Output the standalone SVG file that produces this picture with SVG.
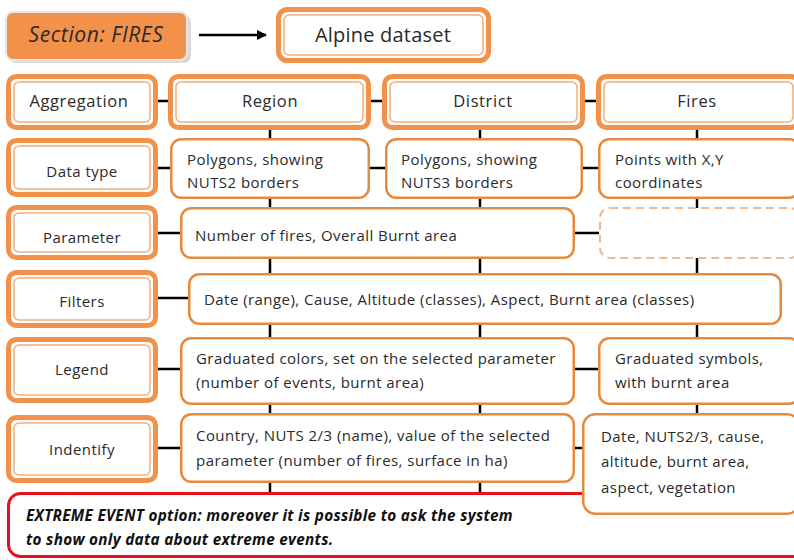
<svg xmlns="http://www.w3.org/2000/svg" width="794" height="560" viewBox="0 0 794 560">
<style>
text{font-family:"Open Sans","Liberation Sans",sans-serif;fill:#2a2a2a;font-size:15px;letter-spacing:0.45px}
.c{text-anchor:middle}
.lo{fill:#fff;stroke:#F1914A;stroke-width:5}
.li{fill:none;stroke:#F4AE7A;stroke-width:1.5}
.box{fill:#fff;stroke:#E58A3E;stroke-width:2.5}
.con{stroke:#000;stroke-width:2.5;fill:none}
.big{font-size:20px;letter-spacing:0.2px}
.lab{font-size:16.5px;letter-spacing:0.6px}
.red{font-weight:bold;font-style:italic;fill:#111;font-size:15.3px;letter-spacing:0.3px}
</style>
<defs>
<marker id="ah" viewBox="0 0 10 10" refX="9" refY="5" markerWidth="4" markerHeight="4" orient="auto" markerUnits="strokeWidth">
<path d="M0,0 L10,5 L0,10 z" fill="#000"/>
</marker>
</defs>
<rect width="794" height="560" fill="#fff"/>
<g id="connectors">
<line class="con" x1="199" y1="35" x2="266" y2="35" stroke-width="3" marker-end="url(#ah)"/>
<line class="con" x1="270" y1="130" x2="270" y2="492"/>
<line class="con" x1="480" y1="130" x2="480" y2="492"/>
<line class="con" x1="697" y1="130" x2="697" y2="413"/>
<line class="con" x1="158" y1="101" x2="168" y2="101"/>
<line class="con" x1="371" y1="101" x2="382" y2="101"/>
<line class="con" x1="585" y1="101" x2="596" y2="101"/>
<line class="con" x1="158" y1="168" x2="170" y2="168"/>
<line class="con" x1="370" y1="168" x2="385" y2="168"/>
<line class="con" x1="583" y1="168" x2="598" y2="168"/>
<line class="con" x1="158" y1="233" x2="180" y2="233"/>
<line class="con" x1="575" y1="233" x2="599" y2="233"/>
<line class="con" x1="158" y1="298" x2="188" y2="298"/>
<line class="con" x1="158" y1="369" x2="180" y2="369"/>
<line class="con" x1="575" y1="369" x2="598" y2="369"/>
<line class="con" x1="158" y1="448" x2="180" y2="448"/>
<line class="con" x1="575" y1="448" x2="582" y2="448"/>
</g>
<g id="section">
<rect x="9" y="15" width="182" height="48" rx="7" fill="#d9d9d9"/>
<rect x="6" y="12" width="181" height="48" rx="7" fill="#F3914A" stroke="#e6e6e6" stroke-width="2"/>
<text x="96" y="42" class="c big" font-style="italic" style="font-size:21px;letter-spacing:0.6px">Section: FIRES</text>
</g>
<g id="alpine">
<rect x="278.5" y="9.5" width="210" height="51" rx="9" class="lo"/>
<rect x="284" y="15" width="199" height="40" rx="5" class="li"/>
<text x="383" y="42" class="c big">Alpine dataset</text>
</g>
<g id="aggregation">
<rect x="8.5" y="76.5" width="147" height="51" rx="8" class="lo"/>
<rect x="14" y="82" width="136" height="40" rx="5" class="li"/>
<text x="79" y="107" class="c lab">Aggregation</text>
</g>
<g id="region">
<rect x="170.5" y="76.5" width="198" height="51" rx="8" class="lo"/>
<rect x="176" y="82" width="187" height="40" rx="5" class="li"/>
<text x="270" y="107" class="c lab">Region</text>
</g>
<g id="district">
<rect x="384.5" y="76.5" width="198" height="51" rx="8" class="lo"/>
<rect x="390" y="82" width="187" height="40" rx="5" class="li"/>
<text x="483" y="107" class="c lab">District</text>
</g>
<g id="fires">
<rect x="598.5" y="76.5" width="200" height="51" rx="8" class="lo"/>
<rect x="604" y="82" width="189" height="40" rx="5" class="li"/>
<text x="697" y="107" class="c lab">Fires</text>
</g>
<g id="datatype">
<rect x="8.5" y="140.5" width="147" height="54" rx="8" class="lo"/>
<rect x="14" y="146" width="136" height="43" rx="5" class="li"/>
<text x="82" y="177" class="c">Data type</text>
</g>
<g id="dt-region">
<rect x="171.25" y="139.25" width="197.5" height="58.5" rx="10" class="box"/>
<text x="187" y="165">Polygons,  showing</text>
<text x="187" y="188">NUTS2 borders</text>
</g>
<g id="dt-district">
<rect x="386.25" y="139.25" width="195.5" height="58.5" rx="10" class="box"/>
<text x="401" y="165">Polygons,  showing</text>
<text x="401" y="188">NUTS3 borders</text>
</g>
<g id="dt-fires">
<rect x="599.25" y="139.25" width="200" height="58.5" rx="10" class="box"/>
<text x="615" y="165">Points with X,Y</text>
<text x="615" y="188">coordinates</text>
</g>
<g id="parameter">
<rect x="8.5" y="207.5" width="147" height="50" rx="8" class="lo"/>
<rect x="14" y="213" width="136" height="39" rx="5" class="li"/>
<text x="82" y="243" class="c">Parameter</text>
</g>
<g id="par-content">
<rect x="181.25" y="208.25" width="392.5" height="49.5" rx="10" class="box"/>
<text x="195" y="241">Number of fires, Overall Burnt area</text>
</g>
<g id="par-empty">
<rect x="600" y="208" width="200" height="50" rx="10" fill="#fff" stroke="#F4B88C" stroke-width="2" stroke-dasharray="8 5"/>
</g>
<g id="filters">
<rect x="8.5" y="272.5" width="147" height="53" rx="8" class="lo"/>
<rect x="14" y="278" width="136" height="42" rx="5" class="li"/>
<text x="82" y="307" class="c">Filters</text>
</g>
<g id="fil-content">
<rect x="189.25" y="274.25" width="591.5" height="49.5" rx="10" class="box"/>
<text x="204" y="305">Date (range), Cause, Altitude (classes), Aspect, Burnt area (classes)</text>
</g>
<g id="legend">
<rect x="8.5" y="339.5" width="147" height="61" rx="8" class="lo"/>
<rect x="14" y="345" width="136" height="50" rx="5" class="li"/>
<text x="82" y="375" class="c">Legend</text>
</g>
<g id="leg-content">
<rect x="181.25" y="338.25" width="392.5" height="65.5" rx="10" class="box"/>
<text x="196" y="364">Graduated colors, set on the selected parameter</text>
<text x="196" y="388">(number of events, burnt area)</text>
</g>
<g id="leg-fires">
<rect x="599.25" y="338.25" width="200" height="65.5" rx="10" class="box"/>
<text x="615" y="364">Graduated symbols,</text>
<text x="615" y="388">with burnt area</text>
</g>
<g id="indentify">
<rect x="8.5" y="417.5" width="147" height="63" rx="8" class="lo"/>
<rect x="14" y="423" width="136" height="52" rx="5" class="li"/>
<text x="82" y="455" class="c">Indentify</text>
</g>
<g id="ind-content">
<rect x="181.25" y="414.25" width="392.5" height="67.5" rx="10" class="box"/>
<text x="196" y="441">Country, NUTS 2/3 (name), value of the selected</text>
<text x="196" y="466">parameter (number of fires, surface in ha)</text>
</g>
<g id="extreme">
<rect x="8.5" y="493.5" width="800" height="63" rx="12" fill="#fff" stroke="#E5121B" stroke-width="3"/>
<text x="26" y="521" class="red">EXTREME EVENT option: moreover it is possible to ask the system</text>
<text x="26" y="545" class="red">to show only data about  extreme events.</text>
</g>
<g id="ind-fires">
<rect x="583.25" y="414.25" width="216" height="99.5" rx="12" class="box"/>
<text x="601" y="442">Date, NUTS2/3, cause,</text>
<text x="601" y="467">altitude, burnt area,</text>
<text x="601" y="493">aspect, vegetation</text>
</g>
</svg>
